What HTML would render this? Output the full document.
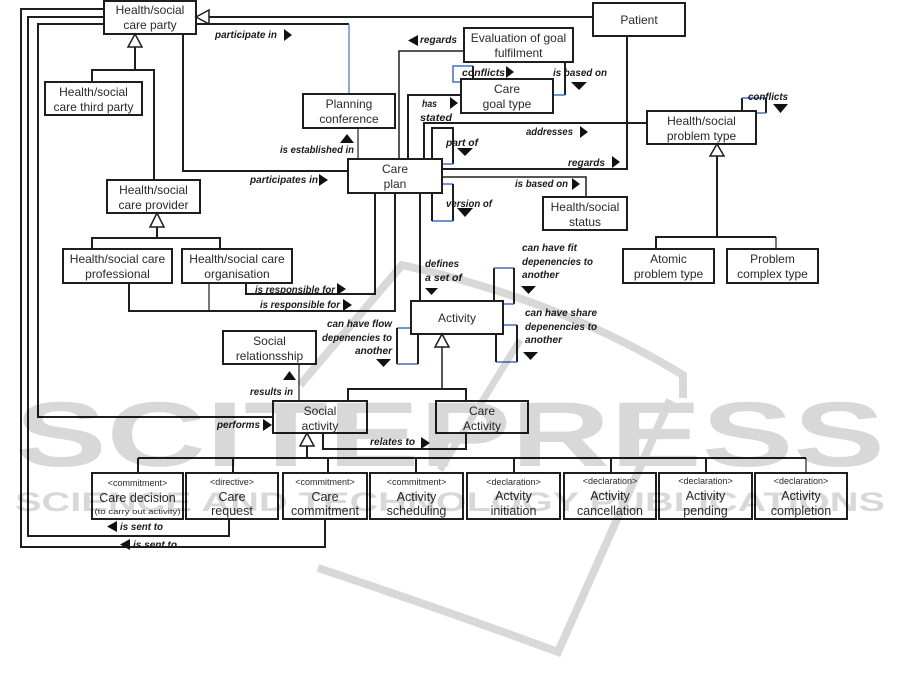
<!DOCTYPE html>
<html><head><meta charset="utf-8"><style>
html,body{margin:0;padding:0;background:#fff;}
svg{display:block;}
.b{fill:#fff;stroke:#1e1e1e;stroke-width:2}
.t{font-family:"Liberation Sans",sans-serif;font-size:12px;fill:#2a2a2a;text-anchor:middle}
.tb{font-family:"Liberation Sans",sans-serif;font-size:12.5px;fill:#2a2a2a;text-anchor:middle}
.s{font-family:"Liberation Sans",sans-serif;font-size:9px;fill:#2a2a2a;text-anchor:middle}
.l{font-family:"Liberation Sans",sans-serif;font-size:10.5px;font-weight:bold;font-style:italic;fill:#1a1a1a}
.le{font-family:"Liberation Sans",sans-serif;font-size:10.5px;font-weight:bold;font-style:italic;fill:#1a1a1a;text-anchor:end}
.c{fill:none;stroke:#1e1e1e;stroke-width:2}
.n{fill:none;stroke:#1e1e1e;stroke-width:1.2}
.m{fill:none;stroke:#1e1e1e;stroke-width:1.5}
.u{fill:none;stroke:#4270c0;stroke-width:1.5}
.a{fill:#111}
.g{fill:#fff;stroke:#1e1e1e;stroke-width:1.5}
</style></head><body>
<svg width="901" height="689" viewBox="0 0 901 689" xmlns="http://www.w3.org/2000/svg">
<rect width="901" height="689" fill="#fff"/>

<!-- connectors -->
<path class="c" d="M104 9 H21 V547 H325 V520"/>
<path class="c" d="M104 17 H28 V536 H229 V520"/>
<path class="c" d="M104 24 H38 V417 H273"/>
<path class="c" d="M593 17 H209"/>
<path class="c" d="M196 24 H349"/>
<path class="u" style="stroke-width:1.2" d="M349 24 V94"/>
<path class="c" d="M183 34 V171 H348"/>
<path class="n" d="M358 128 V159"/>
<path class="c" d="M92 82 V70 H154 V180"/>
<path class="c" d="M135 47 V70"/>
<path class="c" d="M157 227 V238 M92 249 V238 H220 V249"/>
<path class="c" d="M246 283 V294 H375 V193"/>
<path class="c" d="M129 283 V311 H395 V193"/>
<path class="n" d="M209 283 V311"/>
<path class="c" d="M420 193 V301"/>
<path class="m" d="M464 51 H399 V159"/>
<path class="c" d="M408 159 V95 H461"/>
<path class="c" d="M424 159 V123 H647"/>
<path class="c" d="M432 159 V128 H453 V164"/>
<path class="u" d="M453 164 H442"/>
<path class="c" d="M442 169 H627 V36"/>
<path class="m" d="M442 177 H586 V197"/>
<path class="u" d="M442 184 H453"/>
<path class="c" d="M453 184 V221"/>
<path class="u" d="M453 221 H432"/>
<path class="c" d="M432 221 V193"/>
<!-- conflicts on care goal type -->
<path class="u" d="M461 82 H453 V66 H473"/>
<path class="c" d="M473 66 V79"/>
<!-- is based on eval->goal -->
<path class="c" d="M565 62 V95"/>
<path class="u" d="M565 95 H553"/>
<!-- problem type conflicts -->
<path class="c" d="M742 111 V98"/>
<path class="u" d="M742 98 H766"/>
<path class="c" d="M766 98 V113"/>
<path class="u" d="M766 113 H756"/>
<path class="c" d="M717 156 V237 M656 249 V237 H776"/>
<path class="n" d="M776 237 V249"/>
<!-- activity -->
<path class="m" d="M442 347 V389"/>
<path class="c" d="M348 401 V389 H466 V401"/>
<path class="c" d="M494 301 V268"/>
<path class="u" d="M494 268 H514"/>
<path class="c" d="M514 268 V304"/>
<path class="u" d="M514 304 H503"/>
<path class="u" d="M503 325 H517"/>
<path class="c" d="M517 325 V362"/>
<path class="u" d="M517 362 H496"/>
<path class="c" d="M496 362 V334"/>
<path class="u" d="M411 328 H397"/>
<path class="c" d="M397 328 V364"/>
<path class="u" d="M397 364 H418"/>
<path class="c" d="M418 364 V334"/>
<path class="n" d="M299 364 V401"/>
<path class="c" d="M323 433 V449 H466 V433"/>
<path class="c" d="M307 446 V458 M138 458 H806 M138 458 V473 M233 458 V473 M328 458 V473 M416 458 V473 M514 458 V473 M611 458 V473 M706 458 V473"/>
<path class="n" d="M806 458 V473"/>

<!-- boxes -->
<rect class="b" x="104" y="1" width="92" height="33"/>
<text class="t" x="150" y="14">Health/social</text><text class="t" x="150" y="29">care party</text>
<rect class="b" x="45" y="82" width="97" height="33"/>
<text class="t" x="93.5" y="96">Health/social</text><text class="t" x="93.5" y="111">care third party</text>
<rect class="b" x="107" y="180" width="93" height="33"/>
<text class="t" x="153.5" y="194">Health/social</text><text class="t" x="153.5" y="209">care provider</text>
<rect class="b" x="63" y="249" width="109" height="34"/>
<text class="t" x="117.5" y="263">Health/social care</text><text class="t" x="117.5" y="278">professional</text>
<rect class="b" x="182" y="249" width="110" height="34"/>
<text class="t" x="237" y="263">Health/social care</text><text class="t" x="237" y="278">organisation</text>
<rect class="b" x="303" y="94" width="92" height="34"/>
<text class="t" x="349" y="108">Planning</text><text class="t" x="349" y="123">conference</text>
<rect class="b" x="348" y="159" width="94" height="34"/>
<text class="t" x="395" y="173">Care</text><text class="t" x="395" y="188">plan</text>
<rect class="b" x="593" y="3" width="92" height="33"/>
<text class="t" x="639" y="24">Patient</text>
<rect class="b" x="464" y="28" width="109" height="34"/>
<text class="t" x="518.5" y="42">Evaluation of goal</text><text class="t" x="518.5" y="57">fulfilment</text>
<rect class="b" x="461" y="79" width="92" height="34"/>
<text class="t" x="507" y="93">Care</text><text class="t" x="507" y="108">goal type</text>
<rect class="b" x="543" y="197" width="84" height="33"/>
<text class="t" x="585" y="211">Health/social</text><text class="t" x="585" y="226">status</text>
<rect class="b" x="647" y="111" width="109" height="33"/>
<text class="t" x="701.5" y="125">Health/social</text><text class="t" x="701.5" y="140">problem type</text>
<rect class="b" x="623" y="249" width="91" height="34"/>
<text class="t" x="668.5" y="263">Atomic</text><text class="t" x="668.5" y="278">problem type</text>
<rect class="b" x="727" y="249" width="91" height="34"/>
<text class="t" x="772.5" y="263">Problem</text><text class="t" x="772.5" y="278">complex type</text>
<rect class="b" x="411" y="301" width="92" height="33"/>
<text class="t" x="457" y="322">Activity</text>
<rect class="b" x="223" y="331" width="93" height="33"/>
<text class="t" x="269.5" y="345">Social</text><text class="t" x="269.5" y="360">relationsship</text>
<rect class="b" x="273" y="401" width="94" height="32"/>
<text class="t" x="320" y="415">Social</text><text class="t" x="320" y="430">activity</text>
<rect class="b" x="436" y="401" width="92" height="32"/>
<text class="t" x="482" y="415">Care</text><text class="t" x="482" y="430">Activity</text>

<!-- bottom boxes -->
<rect class="b" x="92" y="473" width="91" height="46"/>
<text class="s" x="137.5" y="486">&lt;commitment&gt;</text>
<text class="tb" x="137.5" y="502">Care  decision</text>
<text class="s" x="137.5" y="514" style="font-size:7px" textLength="86" lengthAdjust="spacingAndGlyphs">(to carry out activity)</text>
<rect class="b" x="186" y="473" width="92" height="46"/>
<text class="s" x="232" y="485">&lt;directive&gt;</text>
<text class="tb" x="232" y="501">Care</text><text class="tb" x="232" y="515">request</text>
<rect class="b" x="283" y="473" width="84" height="46"/>
<text class="s" x="325" y="485">&lt;commitment&gt;</text>
<text class="tb" x="325" y="501">Care</text><text class="tb" x="325" y="515">commitment</text>
<rect class="b" x="370" y="473" width="93" height="46"/>
<text class="s" x="416.5" y="485">&lt;commitment&gt;</text>
<text class="tb" x="416.5" y="501">Activity</text><text class="tb" x="416.5" y="515">scheduling</text>
<rect class="b" x="467" y="473" width="93" height="46"/>
<text class="s" x="513.5" y="485">&lt;declaration&gt;</text>
<text class="tb" x="513.5" y="500">Actvity</text><text class="tb" x="513.5" y="515">initiation</text>
<rect class="b" x="564" y="473" width="92" height="46"/>
<text class="s" x="610" y="484">&lt;declaration&gt;</text>
<text class="tb" x="610" y="500">Activity</text><text class="tb" x="610" y="515">cancellation</text>
<rect class="b" x="659" y="473" width="93" height="46"/>
<text class="s" x="705.5" y="484">&lt;declaration&gt;</text>
<text class="tb" x="705.5" y="500">Activity</text><text class="tb" x="705.5" y="515">pending</text>
<rect class="b" x="755" y="473" width="92" height="46"/>
<text class="s" x="801" y="484">&lt;declaration&gt;</text>
<text class="tb" x="801" y="500">Activity</text><text class="tb" x="801" y="515">completion</text>

<!-- generalization triangles -->
<polygon class="g" points="196,17 209,10 209,24"/>
<polygon class="g" points="135,34 128,47 142,47"/>
<polygon class="g" points="157,213 150,227 164,227"/>
<polygon class="g" points="717,144 710,156 724,156"/>
<polygon class="g" points="442,334 435,347 449,347"/>
<polygon class="g" points="307,433 300,446 314,446"/>

<!-- labels -->
<text class="l" x="215" y="38" textLength="62" lengthAdjust="spacingAndGlyphs">participate in</text>
<text class="l" x="250" y="183" textLength="68" lengthAdjust="spacingAndGlyphs">participates in</text>
<text class="l" x="280" y="153" textLength="74" lengthAdjust="spacingAndGlyphs">is established in</text>
<text class="l" x="420" y="43" textLength="37" lengthAdjust="spacingAndGlyphs">regards</text>
<text class="l" x="462" y="76" textLength="43" lengthAdjust="spacingAndGlyphs">conflicts</text>
<text class="l" x="553" y="76" textLength="54" lengthAdjust="spacingAndGlyphs">is based on</text>
<text class="l" x="422" y="107" textLength="15" lengthAdjust="spacingAndGlyphs">has</text>
<text class="l" x="420" y="121" textLength="32" lengthAdjust="spacingAndGlyphs">stated</text>
<text class="l" x="526" y="135" textLength="47" lengthAdjust="spacingAndGlyphs">addresses</text>
<text class="l" x="446" y="146" textLength="32" lengthAdjust="spacingAndGlyphs">part of</text>
<text class="l" x="568" y="166" textLength="37" lengthAdjust="spacingAndGlyphs">regards</text>
<text class="l" x="515" y="187" textLength="53" lengthAdjust="spacingAndGlyphs">is based on</text>
<text class="l" x="446" y="207" textLength="46" lengthAdjust="spacingAndGlyphs">version of</text>
<text class="l" x="748" y="100" textLength="40" lengthAdjust="spacingAndGlyphs">conflicts</text>
<text class="l" x="255" y="293" textLength="80" lengthAdjust="spacingAndGlyphs">is responsible for</text>
<text class="l" x="260" y="308" textLength="80" lengthAdjust="spacingAndGlyphs">is responsible for</text>
<text class="l" x="425" y="267" textLength="34" lengthAdjust="spacingAndGlyphs">defines</text>
<text class="l" x="425" y="281" textLength="37" lengthAdjust="spacingAndGlyphs">a set of</text>
<text class="l" x="522" y="251" textLength="55" lengthAdjust="spacingAndGlyphs">can have fit</text>
<text class="l" x="522" y="265" textLength="71" lengthAdjust="spacingAndGlyphs">depenencies to</text>
<text class="l" x="522" y="278" textLength="37" lengthAdjust="spacingAndGlyphs">another</text>
<text class="l" x="525" y="316" textLength="72" lengthAdjust="spacingAndGlyphs">can have share</text>
<text class="l" x="525" y="330" textLength="72" lengthAdjust="spacingAndGlyphs">depenencies to</text>
<text class="l" x="525" y="343" textLength="37" lengthAdjust="spacingAndGlyphs">another</text>
<text class="l" x="327" y="327" textLength="65" lengthAdjust="spacingAndGlyphs">can have flow</text>
<text class="l" x="322" y="341" textLength="70" lengthAdjust="spacingAndGlyphs">depenencies to</text>
<text class="l" x="355" y="354" textLength="37" lengthAdjust="spacingAndGlyphs">another</text>
<text class="l" x="250" y="395" textLength="43" lengthAdjust="spacingAndGlyphs">results in</text>
<text class="l" x="217" y="428" textLength="43" lengthAdjust="spacingAndGlyphs">performs</text>
<text class="l" x="370" y="445" textLength="45" lengthAdjust="spacingAndGlyphs">relates to</text>
<text class="l" x="120" y="530" textLength="43" lengthAdjust="spacingAndGlyphs">is sent to</text>
<text class="l" x="133" y="548" textLength="44" lengthAdjust="spacingAndGlyphs">is sent to</text>

<!-- arrowheads -->
<g class="a">
<polygon points="284,29 284,41 292,35"/>
<polygon points="319,174 319,186 328,180"/>
<polygon points="340,143 354,143 347,134"/>
<polygon points="418,35 418,46 408,40.5"/>
<polygon points="506,66 506,78 514,72"/>
<polygon points="571,82 587,82 579,90"/>
<polygon points="450,97 450,109 458,103"/>
<polygon points="580,126 580,138 588,132"/>
<polygon points="457,148 473,148 465,156"/>
<polygon points="612,156 612,168 620,162"/>
<polygon points="572,178 572,190 580,184"/>
<polygon points="457,208 473,208 465,217"/>
<polygon points="773,104 788,104 780.5,113"/>
<polygon points="337,283 337,295 346,289"/>
<polygon points="343,299 343,311 352,305"/>
<polygon points="425,288 438,288 431.5,295"/>
<polygon points="521,286 536,286 528.5,294"/>
<polygon points="523,352 538,352 530.5,360"/>
<polygon points="376,359 391,359 383.5,367"/>
<polygon points="283,380 296,380 289.5,371"/>
<polygon points="263,419 263,431 272,425"/>
<polygon points="421,437 421,449 430,443"/>
<polygon points="117,521 117,532 107,526.5"/>
<polygon points="130,539 130,550 120,544.5"/>
</g>

<!-- watermark overlay -->
<g opacity="0.15">
<text x="15" y="466" font-family="Liberation Sans, sans-serif" font-size="92" font-weight="bold" fill="#000" textLength="870" lengthAdjust="spacingAndGlyphs">SCITEPRESS</text>
<text x="15" y="511" font-family="Liberation Sans, sans-serif" font-size="27" font-weight="bold" fill="#000" textLength="870" lengthAdjust="spacingAndGlyphs">SCIENCE AND TECHNOLOGY PUBLICATIONS</text>
<path d="M300 385 L402 265 Q560 300 683 375 L683 398" fill="none" stroke="#000" stroke-width="8"/>
<path d="M318 568 Q450 612 558 652 L670 400" fill="none" stroke="#000" stroke-width="8"/>
<path d="M520 340 L440 470" fill="none" stroke="#000" stroke-width="7"/>
</g>
</svg>
</body></html>
